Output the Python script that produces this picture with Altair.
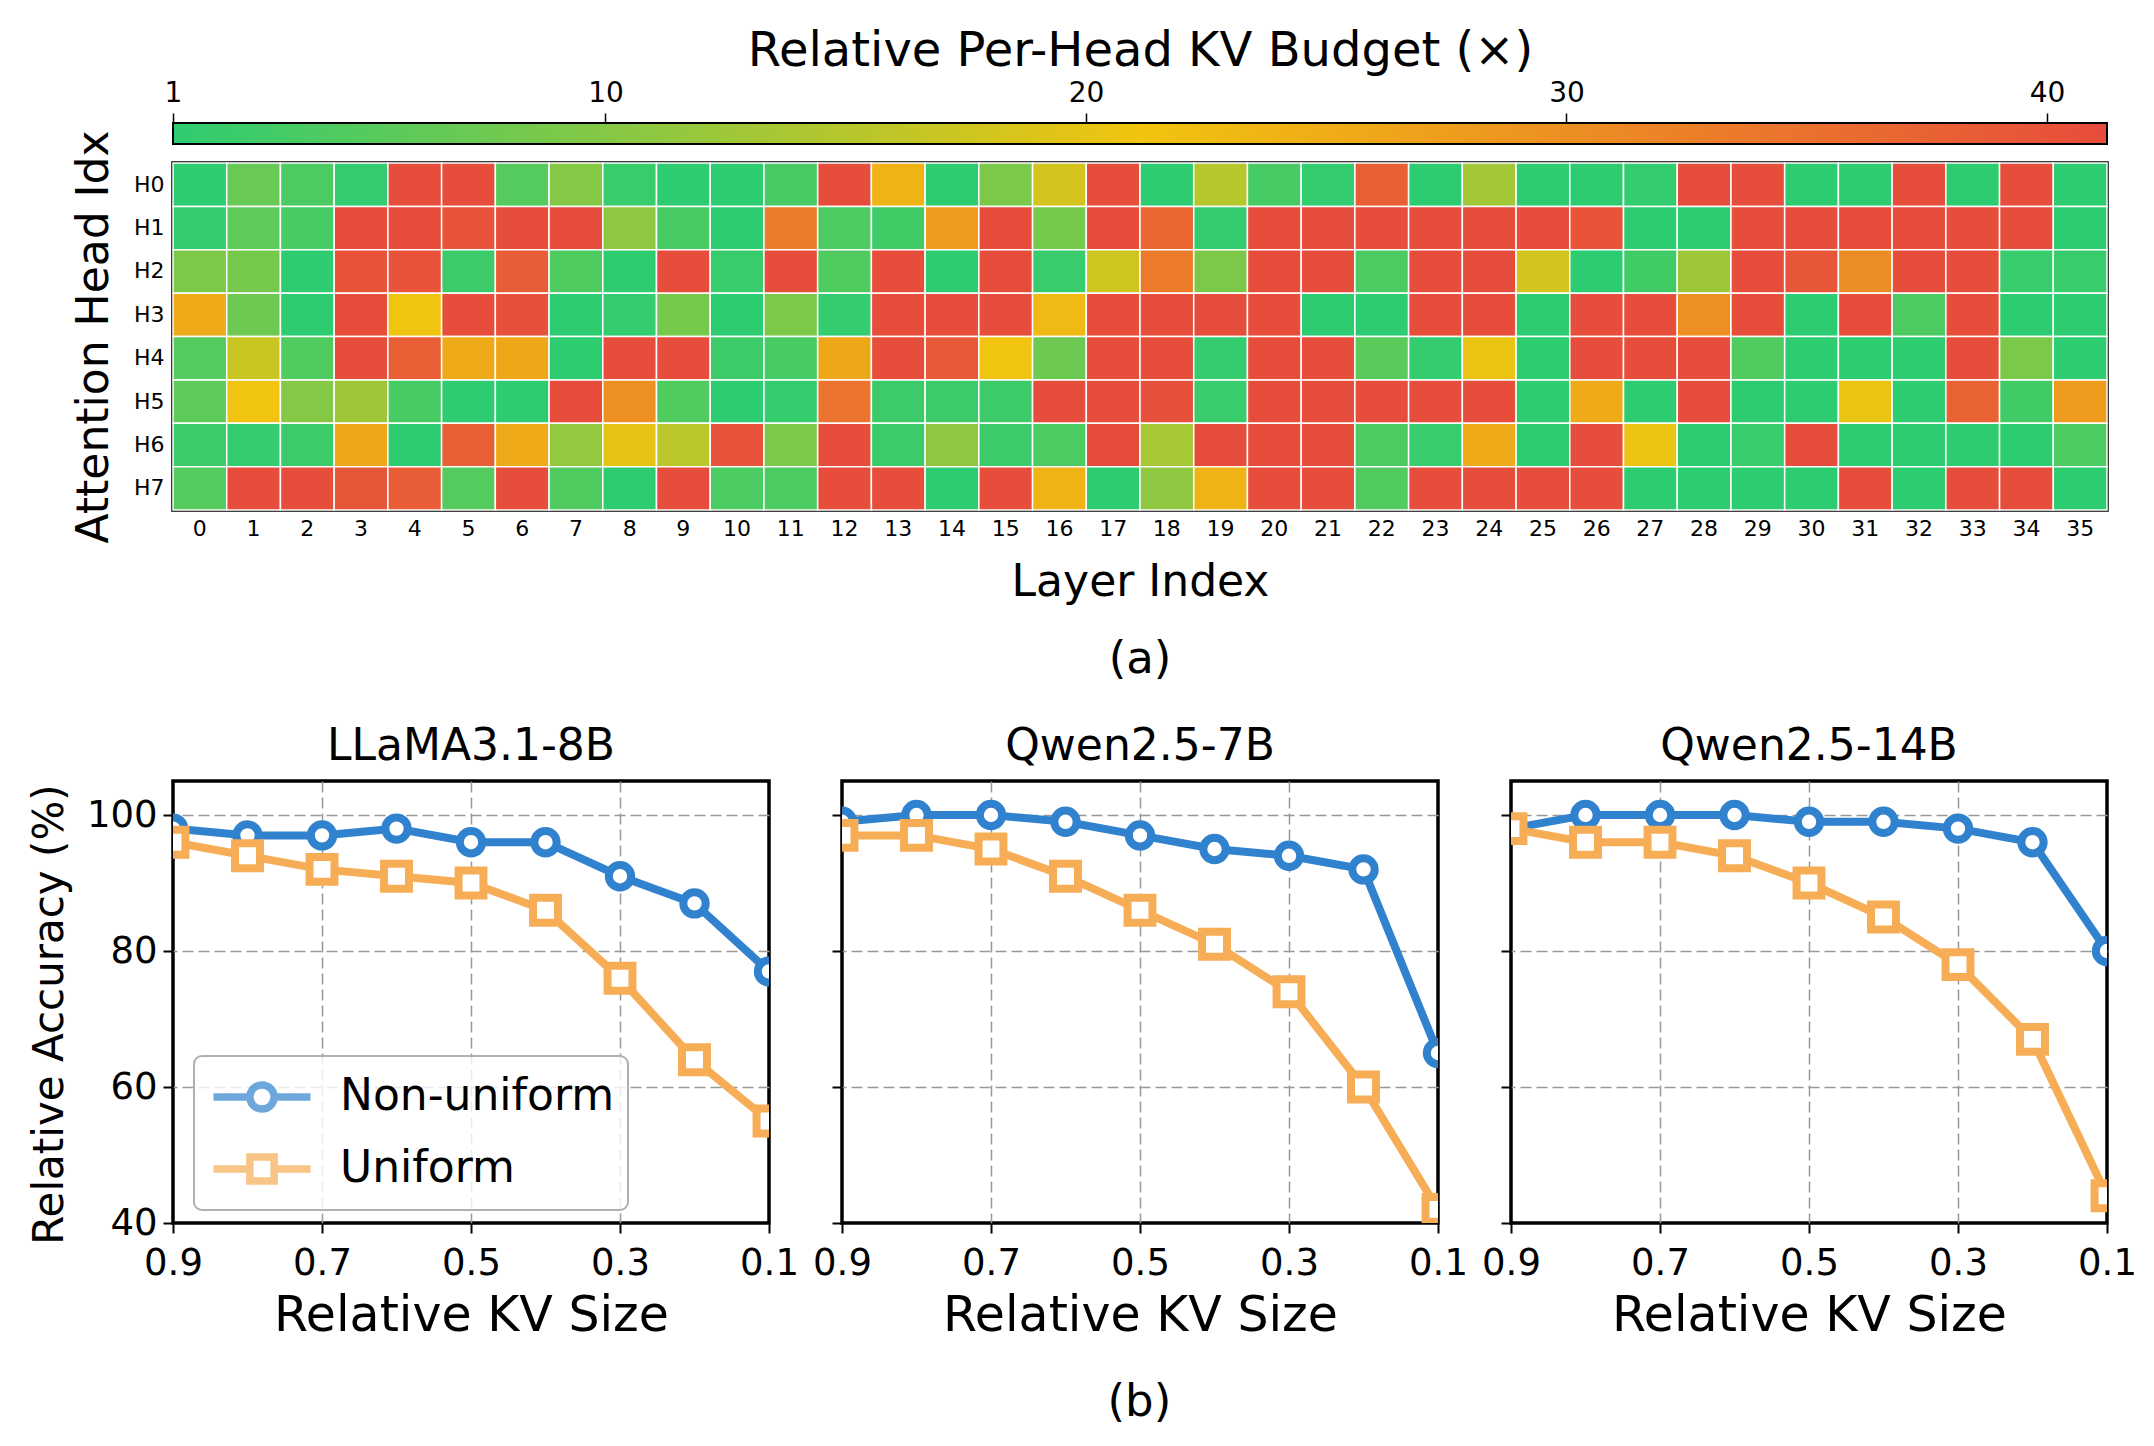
import altair as alt
import pandas as pd

FONT = "DejaVu Sans"

# ---------------- heatmap data (a) ----------------
LAYERS = list(range(36))
HEADS = ["H0", "H1", "H2", "H3", "H4", "H5", "H6", "H7"]
H0 = [1, 7, 4, 1.5, 41, 41, 5, 10, 2, 1, 1, 3.5, 41, 24, 1, 9, 18, 41, 1, 15, 3.5, 1.5, 38, 1,
      13, 1, 1, 1.5, 41, 41, 1, 1, 41, 1, 41, 1]
H1 = [1.5, 6, 3.5, 41, 41, 40, 41, 41, 11, 3.5, 1, 33, 4, 3, 28, 41, 8.5, 41, 37, 1.5, 41, 41, 41, 41,
      41, 41, 40, 1, 1, 41, 41, 41, 41, 41, 41, 1]
H2 = [9, 8.5, 1, 40, 40, 2.5, 38.5, 4.5, 1, 41, 2, 41, 4.5, 41, 1, 41, 2, 17.5, 33.5, 9, 41, 41, 4, 41,
      41, 18, 1, 3, 12.5, 41, 39.5, 30.5, 41, 41, 2, 2]
H3 = [25.5, 7.5, 1, 41, 21, 41, 40.5, 1, 1.5, 8.5, 1, 9, 1.5, 41, 41, 41, 23, 41, 41, 41, 41, 1, 1, 41,
      41, 1, 41, 41, 30, 41, 1, 41, 4, 41, 1, 1]
H4 = [5, 17, 4.5, 41, 38, 25.5, 26, 1, 41, 41, 2.5, 3.5, 26, 41, 39, 21, 7.5, 41, 41, 1.5, 41, 41, 5.5, 1.5,
      20.5, 1, 41, 41, 41, 4.5, 1, 1, 1, 41, 9, 1]
H5 = [6, 21, 10, 12.5, 3.5, 1, 1, 41, 30, 4.5, 1, 1.5, 34.5, 2.5, 2.5, 2.5, 41, 41, 40.5, 2, 41, 41, 41, 41,
      41, 1, 25.5, 1, 41, 1, 1, 20.5, 1, 37.5, 3, 28]
H6 = [2.5, 1.5, 2.5, 26, 1, 38, 25.5, 11.5, 20, 15.5, 40, 9, 41, 2.5, 11, 2.5, 4, 41, 13.5, 41, 41, 41, 4, 2,
      25.5, 1, 41, 20.5, 1, 2, 41, 1, 1, 1, 1, 4]
H7 = [5, 41, 41, 39.5, 38.5, 5, 41, 4.5, 1, 41, 4, 4, 41, 41, 1, 41, 24, 1, 11, 24, 41, 41, 4.5, 41,
      41, 41, 41, 1, 1, 1, 1, 41, 1, 41, 41, 1]
BUDGET_ROWS = [H0, H1, H2, H3, H4, H5, H6, H7]

CB_MIN = 1.0
CB_MAX = 41.25
CB_TICKS = [1, 10, 20, 30, 40]
CMAP = ["#2ecc71", "#f1c40f", "#e74c3c"]

# ---------------- line data (b) ----------------
KV_SIZE = [0.9, 0.8, 0.7, 0.6, 0.5, 0.4, 0.3, 0.2, 0.1]
KV_TICKS = [0.9, 0.7, 0.5, 0.3, 0.1]
ACC_TICKS = [40, 60, 80, 100]
MODELS = ["LLaMA3.1-8B", "Qwen2.5-7B", "Qwen2.5-14B"]
LLAMA_NONUNI = [98, 97, 97, 98, 96, 96, 91, 87, 77]
LLAMA_UNI = [96, 94, 92, 91, 90, 86, 76, 64, 55]
QWEN7_NONUNI = [99, 100, 100, 99, 97, 95, 94, 92, 65]
QWEN7_UNI = [97, 97, 95, 91, 86, 81, 74, 60, 42]
QWEN14_NONUNI = [98, 100, 100, 100, 99, 99, 98, 96, 80]
QWEN14_UNI = [98, 96, 96, 94, 90, 85, 78, 67, 44]
NONUNI = [LLAMA_NONUNI, QWEN7_NONUNI, QWEN14_NONUNI]
UNI = [LLAMA_UNI, QWEN7_UNI, QWEN14_UNI]
SERIES = ["Non-uniform", "Uniform"]
SERIES_COLORS = ["#3182ce", "#f6ad55"]

PATH_CIRC = "M-2,0L-0.5,0M0.5,0L2,0M0.5,0A0.5,0.5,0,1,1,-0.5,0A0.5,0.5,0,1,1,0.5,0Z"
PATH_SQ = "M-2,0L-0.5,0M0.5,0L2,0M-0.5,-0.5L0.5,-0.5L0.5,0.5L-0.5,0.5Z"

GRID_KW = dict(grid=True, gridDash=[11, 5], gridColor="#999999", gridWidth=1.5)

# ---------------- (a) heatmap + colorbar ----------------
rows = []
for head, vals in zip(HEADS, BUDGET_ROWS):
    for layer, v in zip(LAYERS, vals):
        rows.append({"head": head, "layer": layer, "budget": v})
heat_df = pd.DataFrame(rows)

heat = alt.Chart(heat_df).mark_rect(stroke="white", strokeWidth=1.5).encode(
    x=alt.X(
        "layer:O",
        title="Layer Index",
        scale=alt.Scale(paddingInner=0, paddingOuter=0),
        axis=alt.Axis(orient="bottom", labelAngle=0, labelFontSize=22, labelPadding=8,
                      ticks=False, tickSize=0, domain=False, titleFontSize=44,
                      titlePadding=21),
    ),
    y=alt.Y(
        "head:O",
        title="Attention Head Idx",
        scale=alt.Scale(paddingInner=0, paddingOuter=0),
        axis=alt.Axis(labelFontSize=22, labelPadding=9, ticks=False, tickSize=0,
                      domain=False, titleFontSize=44, titlePadding=17),
    ),
    color=alt.Color(
        "budget:Q",
        scale=alt.Scale(domain=[CB_MIN, (CB_MIN + CB_MAX) / 2, CB_MAX], range=CMAP,
                        interpolate="rgb"),
        legend=None,
    ),
)

cb_df = pd.DataFrame({"lo": [CB_MIN], "hi": [CB_MAX]})
cbar = alt.Chart(cb_df).mark_rect(
    fill=alt.Gradient(
        gradient="linear",
        stops=[alt.GradientStop(color=CMAP[0], offset=0),
               alt.GradientStop(color=CMAP[1], offset=0.5),
               alt.GradientStop(color=CMAP[2], offset=1)],
        x1=0, x2=1, y1=0, y2=0,
    ),
    stroke="black",
    strokeWidth=2,
).encode(
    x=alt.X(
        "lo:Q",
        scale=alt.Scale(domain=[CB_MIN, CB_MAX], nice=False, zero=False),
        axis=alt.Axis(orient="top", offset=40, values=CB_TICKS, grid=False, domain=False,
                      tickSize=10, tickWidth=1.5, labelFontSize=28, labelPadding=6,
                      labelFlush=False, title="Relative Per-Head KV Budget (×)",
                      titleFontSize=48, titlePadding=4),
    ),
    x2="hi:Q",
    y=alt.value(-40),
    y2=alt.value(-19),
)

top = alt.layer(heat, cbar).resolve_scale(x="independent").properties(
    width=1934,
    height=347,
    title=alt.TitleParams("(a)", orient="bottom", fontSize=45, offset=33, frame="group",
                          anchor="middle"),
)

# ---------------- (b) line panels ----------------
panels = []
for i, model in enumerate(MODELS):
    df = pd.DataFrame({
        "kv": KV_SIZE + KV_SIZE,
        "acc": NONUNI[i] + UNI[i],
        "series": [SERIES[0]] * len(KV_SIZE) + [SERIES[1]] * len(KV_SIZE),
    })
    first = i == 0
    x_enc = alt.X(
        "kv:Q",
        title="Relative KV Size",
        scale=alt.Scale(domain=[0.1, 0.9], reverse=True, nice=False, zero=False),
        axis=alt.Axis(values=KV_TICKS, format=".1f", labelFlush=False, labelFontSize=37,
                      labelPadding=12, tickSize=10, tickWidth=2, domain=False,
                      gridOpacity=alt.condition("datum.value < 0.15 || datum.value > 0.85",
                                                alt.value(0), alt.value(1)),
                      titleFontSize=49, titlePadding=10, **GRID_KW),
    )
    y_grid_op = alt.condition("datum.value < 45", alt.value(0), alt.value(1))
    if first:
        y_axis = alt.Axis(values=ACC_TICKS, labelFontSize=37, labelPadding=6, tickSize=10,
                          tickWidth=2, domain=False, gridOpacity=y_grid_op,
                          titleFontSize=42, titlePadding=15, titleY=233, **GRID_KW)
        y_enc = alt.Y("acc:Q", title="Relative Accuracy (%)",
                      scale=alt.Scale(domain=[40, 105], nice=False, zero=False), axis=y_axis)
    else:
        y_axis = alt.Axis(values=ACC_TICKS, labels=False, tickSize=10, tickWidth=2,
                          domain=False, gridOpacity=y_grid_op, **GRID_KW)
        y_enc = alt.Y("acc:Q", title=None,
                      scale=alt.Scale(domain=[40, 105], nice=False, zero=False), axis=y_axis)

    col_scale = alt.Scale(domain=SERIES, range=SERIES_COLORS)
    base = alt.Chart(df)
    line = base.mark_line(strokeWidth=8, clip=True).encode(
        x=x_enc, y=y_enc,
        color=alt.Color("series:N", scale=col_scale, legend=None),
    )
    pts = base.mark_point(filled=False, fill="white", fillOpacity=1, opacity=1,
                          strokeWidth=8, clip=True).encode(
        x=x_enc, y=y_enc,
        color=alt.Color("series:N", scale=col_scale, legend=None),
        shape=alt.Shape("series:N", scale=alt.Scale(domain=SERIES, range=["circle", "square"]),
                        legend=None),
        size=alt.Size("series:N", scale=alt.Scale(domain=SERIES, range=[500, 620]),
                      legend=None),
    )
    layers = [line, pts]
    if first:
        leg = alt.Legend(title=None, orient="none", legendX=21, legendY=275,
                         labelFontSize=44, labelFont=FONT, labelColor="black",
                         labelLimit=600,
                         symbolSize=2352, symbolStrokeWidth=7.5, symbolOffset=27,
                         labelOffset=50, rowPadding=16, padding=13,
                         strokeColor="#b0b0b0", fillColor="rgba(255,255,255,0.8)",
                         cornerRadius=8, symbolFillColor="white")
        legend_layer = base.transform_filter("datum.acc < 0").mark_point(
            filled=False, strokeWidth=7.5).encode(
            x=x_enc, y=y_enc,
            color=alt.Color("series:N", scale=col_scale, legend=leg),
            shape=alt.Shape("series:N", scale=alt.Scale(domain=SERIES,
                                                        range=[PATH_CIRC, PATH_SQ]),
                            legend=leg),
        )
        layers.append(legend_layer)
    panel = alt.layer(*layers).resolve_scale(
        color="independent", shape="independent", size="independent"
    ).properties(
        width=596, height=442,
        title=alt.TitleParams(model, fontSize=44, offset=12, anchor="middle", frame="group"),
    )
    panels.append(panel)

bottom = alt.hconcat(*panels, spacing=73, bounds="flush").resolve_scale(
    color="independent", shape="independent", size="independent"
).properties(
    title=alt.TitleParams("(b)", orient="bottom", fontSize=45, offset=38, anchor="middle",
                          dx=57),
)

chart = alt.vconcat(top, bottom, spacing=271, bounds="flush").resolve_scale(
    color="independent", shape="independent", size="independent"
).properties(
    padding={"left": 26, "top": 25, "right": 10, "bottom": 10},
).configure(
    font=FONT,
).configure_view(
    stroke="black", strokeWidth=3.5,
).configure_axis(
    labelFont=FONT, titleFont=FONT, labelColor="black", titleColor="black",
    tickColor="black", titleFontWeight="normal",
).configure_legend(
    strokeWidth=2,
).configure_title(
    font=FONT, fontWeight="normal", color="black",
)

chart.save("out.html", embed_options={"renderer": "svg", "actions": False})
